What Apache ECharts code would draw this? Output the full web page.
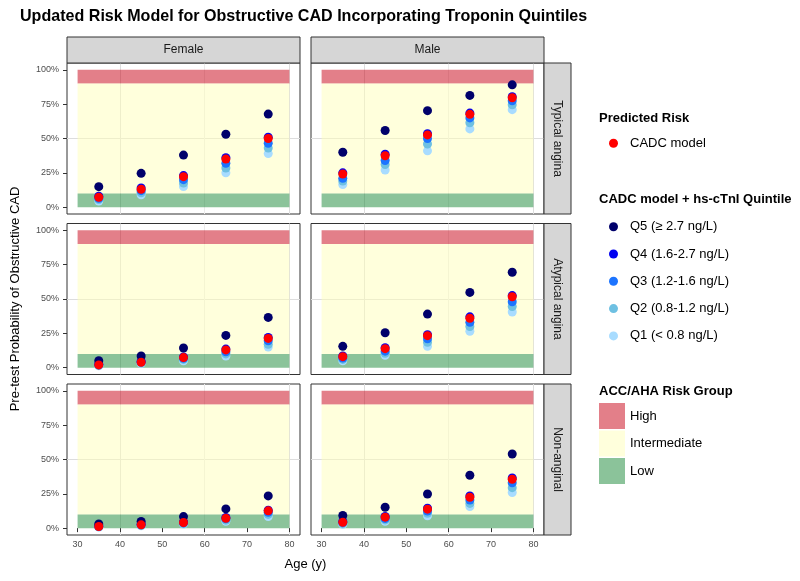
<!DOCTYPE html>
<html><head><meta charset="utf-8">
<script src="https://cdn.jsdelivr.net/npm/echarts@6/dist/echarts.min.js"></script>
<style>html,body{margin:0;padding:0;background:#fff}#chart{width:800px;height:581px}</style>
</head><body><div id="chart"></div>
<script>
// ---------- data ----------
const ages = [35, 45, 55, 65, 75];
const sexes = ['Female', 'Male'];
const chestPain = ['Typical angina', 'Atypical angina', 'Non-anginal'];
// panel order: F-Typical, M-Typical, F-Atypical, M-Atypical, F-Non-anginal, M-Non-anginal
const cadc = [
  [0.072, 0.130, 0.222, 0.350, 0.500],
  [0.241, 0.374, 0.526, 0.676, 0.797],
  [0.020, 0.039, 0.073, 0.129, 0.213],
  [0.080, 0.138, 0.233, 0.360, 0.516],
  [0.012, 0.024, 0.041, 0.072, 0.126],
  [0.043, 0.080, 0.138, 0.225, 0.356]
];
const q5 = [
  [0.149, 0.246, 0.379, 0.531, 0.678],
  [0.400, 0.558, 0.703, 0.814, 0.891],
  [0.051, 0.085, 0.143, 0.235, 0.366],
  [0.155, 0.254, 0.390, 0.548, 0.695],
  [0.031, 0.048, 0.084, 0.140, 0.235],
  [0.092, 0.152, 0.249, 0.385, 0.540]
];
const q4 = [
  [0.080, 0.140, 0.230, 0.360, 0.510],
  [0.250, 0.385, 0.535, 0.685, 0.805],
  [0.025, 0.045, 0.078, 0.135, 0.220],
  [0.085, 0.145, 0.240, 0.370, 0.525],
  [0.015, 0.028, 0.045, 0.078, 0.130],
  [0.048, 0.085, 0.145, 0.235, 0.365]
];
const q3 = [
  [0.065, 0.120, 0.200, 0.320, 0.465],
  [0.210, 0.340, 0.500, 0.650, 0.775],
  [0.020, 0.040, 0.068, 0.115, 0.195],
  [0.070, 0.120, 0.210, 0.330, 0.480],
  [0.012, 0.024, 0.038, 0.068, 0.115],
  [0.040, 0.070, 0.125, 0.205, 0.330]
];
const q2 = [
  [0.055, 0.105, 0.175, 0.285, 0.430],
  [0.190, 0.310, 0.460, 0.615, 0.745],
  [0.017, 0.035, 0.060, 0.100, 0.170],
  [0.060, 0.105, 0.185, 0.300, 0.445],
  [0.010, 0.020, 0.034, 0.058, 0.100],
  [0.033, 0.060, 0.108, 0.180, 0.295]
];
const q1 = [
  [0.045, 0.090, 0.150, 0.250, 0.390],
  [0.165, 0.270, 0.410, 0.570, 0.710],
  [0.014, 0.030, 0.050, 0.085, 0.150],
  [0.050, 0.090, 0.155, 0.265, 0.405],
  [0.008, 0.017, 0.030, 0.050, 0.085],
  [0.027, 0.050, 0.090, 0.158, 0.260]
];
const quintileNames = ['Q5 (≥ 2.7 ng/L)', 'Q4 (1.6-2.7 ng/L)', 'Q3 (1.2-1.6 ng/L)', 'Q2 (0.8-1.2 ng/L)', 'Q1 (< 0.8 ng/L)'];
const bandNames = ['High', 'Intermediate', 'Low'];
const bandFrom = [0.9, 0.1, 0.0];
const bandTo = [1.0, 0.9, 0.1];
const bandAges = [30, 80];
const xTicks = [30, 40, 50, 60, 70, 80];
const yTicks = [0, 0.25, 0.5, 0.75, 1];
const titleText = 'Updated Risk Model for Obstructive CAD Incorporating Troponin Quintiles';

// ---------- styling / layout ----------
const quintileData = [q5, q4, q3, q2, q1];
const quintileColors = ['#00006b', '#0000f0', '#1c74ff', '#6ec0e2', '#a8dcff'];
const cadcColor = '#ff0000';
const bandColors = ['rgba(200,0,20,0.5)', 'rgba(255,255,185,0.5)', 'rgba(23,135,53,0.5)'];
const colLeft = [67, 311], colWidth = 233;
const rowTop = [63, 223.5, 384], rowHeight = 151;
const majorC = '#dddddd', minorC = '#ebebeb', T = 'rgba(0,0,0,0)';
const FONT = "'Liberation Sans', Arial, sans-serif";

// fit title to the reference width
const ctx = document.createElement('canvas').getContext('2d');
ctx.font = "bold 100px 'Liberation Sans'";
const titleSize = Math.min(18, 100 * 568 / ctx.measureText(titleText).width);

const grids = [], xAxes = [], yAxes = [], series = [];
for (let r = 0; r < 3; r++) {
  for (let c = 0; c < 2; c++) {
    const p = r * 2 + c;
    grids.push({ left: colLeft[c], top: rowTop[r], width: colWidth, height: rowHeight,
      show: true, borderColor: '#333333', borderWidth: 1, backgroundColor: '#fff', containLabel: false });
    const bottomRow = r === 2, leftCol = c === 0;
    xAxes.push({ type: 'value', gridIndex: p, min: 27.5, max: 82.5, interval: 2.5,
      axisLine: { show: false },
      axisTick: { show: bottomRow, length: 4, customValues: xTicks, lineStyle: { color: '#333', width: 1 } },
      axisLabel: { show: bottomRow, customValues: xTicks, margin: 5, color: '#4d4d4d', fontSize: 9, fontFamily: FONT },
      splitLine: { show: true, lineStyle: { color: [T, majorC, T, minorC], width: 1 } } });
    yAxes.push({ type: 'value', gridIndex: p, min: -0.05, max: 1.05, interval: 0.025,
      axisLine: { show: false },
      axisTick: { show: leftCol, length: 4, customValues: yTicks, lineStyle: { color: '#333', width: 1 } },
      axisLabel: { show: leftCol, customValues: yTicks, margin: 8, color: '#4d4d4d', fontSize: 9, fontFamily: FONT,
        formatter: v => Math.round(v * 100) + '%' },
      splitLine: { show: true, lineStyle: { color: [T, T, majorC, T, T, T, T, minorC, T, T], width: 1 } } });
    bandNames.forEach((bn, b) => {
      series.push({ type: 'custom', name: bn, xAxisIndex: p, yAxisIndex: p, silent: true, z: 1,
        itemStyle: { color: bandColors[b] },
        encode: { x: [0, 1], y: [2, 3] },
        data: [[bandAges[0], bandAges[1], bandFrom[b], bandTo[b]]],
        renderItem: (params, api) => {
          const a = api.coord([api.value(0), api.value(3)]);
          const d = api.coord([api.value(1), api.value(2)]);
          return { type: 'rect', shape: { x: a[0], y: a[1], width: d[0] - a[0], height: d[1] - a[1] },
            style: { fill: bandColors[b] } };
        } });
    });
    for (let k = 4; k >= 0; k--) {
      series.push({ type: 'scatter', name: quintileNames[k], xAxisIndex: p, yAxisIndex: p, z: 3,
        symbol: 'circle', symbolSize: 9, itemStyle: { color: quintileColors[k], opacity: 1 },
        silent: true, data: ages.map((a, i) => [a, quintileData[k][p][i]]) });
    }
    series.push({ type: 'scatter', name: 'CADC model', xAxisIndex: p, yAxisIndex: p, z: 4,
      symbol: 'circle', symbolSize: 9, itemStyle: { color: cadcColor, opacity: 1 },
      silent: true, data: ages.map((a, i) => [a, cadc[p][i]]) });
  }
}

const legendText = { fontSize: 13, color: '#000', fontFamily: FONT };
const graphic = [];
// column strips
sexes.forEach((s, c) => {
  graphic.push({ type: 'rect', shape: { x: colLeft[c], y: 37, width: colWidth, height: 26 },
    style: { fill: '#d6d6d6', stroke: '#333', lineWidth: 1 }, z: 10 });
  graphic.push({ type: 'text', x: colLeft[c] + colWidth / 2, y: 50, z: 11,
    style: { text: s, fontSize: 12, fill: '#1a1a1a', fontFamily: FONT, textAlign: 'center', textVerticalAlign: 'middle' } });
});
// row strips
chestPain.forEach((cp, r) => {
  graphic.push({ type: 'rect', shape: { x: 544, y: rowTop[r], width: 27, height: rowHeight },
    style: { fill: '#d6d6d6', stroke: '#333', lineWidth: 1 }, z: 10 });
  graphic.push({ type: 'text', x: 557.5, y: rowTop[r] + rowHeight / 2, rotation: -Math.PI / 2, z: 11,
    style: { text: cp, fontSize: 12, fill: '#1a1a1a', fontFamily: FONT, textAlign: 'center', textVerticalAlign: 'middle' } });
});
// axis titles
graphic.push({ type: 'text', x: 305.5, y: 564, style: { text: 'Age (y)', fontSize: 13, fill: '#000', fontFamily: FONT, textAlign: 'center', textVerticalAlign: 'middle' } });
graphic.push({ type: 'text', x: 15, y: 299, rotation: Math.PI / 2, style: { text: 'Pre-test Probability of Obstructive CAD', fontSize: 13, fill: '#000', fontFamily: FONT, textAlign: 'center', textVerticalAlign: 'middle' } });
// legend titles
[['Predicted Risk', 118], ['CADC model + hs-cTnI Quintile', 199], ['ACC/AHA Risk Group', 391]].forEach(([t, y]) => {
  graphic.push({ type: 'text', x: 599, y: y, style: { text: t, fontSize: 13, fontWeight: 'bold', fill: '#000', fontFamily: FONT, textVerticalAlign: 'middle' } });
});

const option = {
  animation: false,
  backgroundColor: '#ffffff',
  title: { text: titleText, left: 20, top: 18.5 - titleSize * 0.6, padding: 0,
    textStyle: { fontSize: titleSize, fontWeight: 'bold', color: '#000', fontFamily: FONT } },
  grid: grids, xAxis: xAxes, yAxis: yAxes, series: series, graphic: graphic,
  legend: [
    { orient: 'vertical', left: 609, top: 136.8, padding: 0, itemWidth: 9, itemHeight: 9, selectedMode: false,
      data: [{ name: 'CADC model', icon: 'circle' }], textStyle: Object.assign({ padding: [0, 0, 0, 7] }, legendText) },
    { orient: 'vertical', left: 609, top: 220.2, padding: 0, itemWidth: 9, itemHeight: 9, itemGap: 14.3, selectedMode: false,
      data: quintileNames.map(n => ({ name: n, icon: 'circle' })), textStyle: Object.assign({ padding: [0, 0, 0, 7] }, legendText) },
    { orient: 'vertical', left: 599, top: 403, padding: 0, itemWidth: 26, itemHeight: 26, itemGap: 1.5, selectedMode: false,
      data: bandNames.map(n => ({ name: n, icon: 'rect' })), textStyle: legendText }
  ]
};
const chart = echarts.init(document.getElementById('chart'), null, { renderer: 'canvas' });
chart.setOption(option);
</script></body></html>
